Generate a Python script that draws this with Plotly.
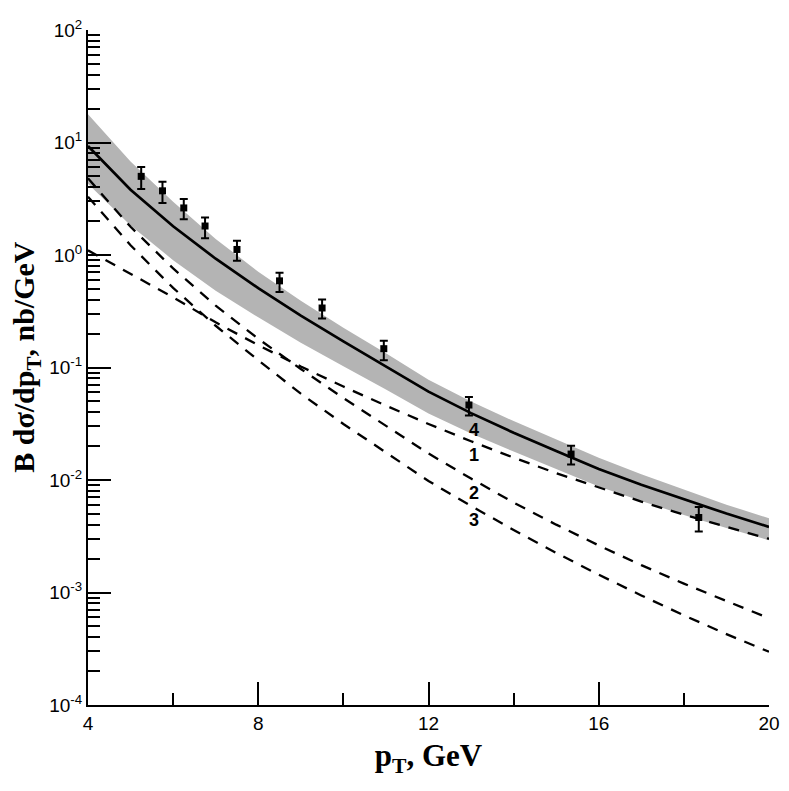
import math

import plotly.graph_objects as go

# theory grid (pT, GeV)
pt = [4, 5, 6, 7, 8, 9, 10, 11, 12, 13, 14, 15, 16, 17, 18, 19, 20]
total = [9.3, 3.81, 1.80, 0.927, 0.508, 0.289, 0.171, 0.103, 0.061, 0.0393, 0.0263,
         0.0181, 0.0125, 0.00906, 0.0067, 0.00503, 0.00383]
band_hi = [17.8, 6.78, 2.97, 1.39, 0.711, 0.393, 0.226, 0.134, 0.078, 0.0499, 0.0334,
           0.0230, 0.01575, 0.01123, 0.00817, 0.00604, 0.00456]
band_lo = [4.3, 1.83, 0.90, 0.482, 0.279, 0.166, 0.1026, 0.0639, 0.0390, 0.0259, 0.0179,
           0.0125, 0.00875, 0.00652, 0.00489, 0.00375, 0.00291]
curve1 = [1.10, 0.68, 0.42, 0.252, 0.158, 0.102, 0.0677, 0.0458, 0.0315, 0.0221, 0.0158,
          0.0115, 0.00855, 0.00643, 0.00491, 0.00381, 0.00300]
curve2 = [4.8, 1.78, 0.76, 0.355, 0.180, 0.097, 0.0535, 0.0302, 0.0172, 0.0103, 0.0063,
          0.00401, 0.00262, 0.00175, 0.00120, 0.00084, 0.00059]
curve3 = [3.3, 1.22, 0.51, 0.235, 0.116, 0.0585, 0.0315, 0.0175, 0.0098, 0.00587, 0.0036,
          0.00225, 0.00144, 0.000942, 0.000627, 0.000427, 0.000297]

# measured points
data_pt = [5.25, 5.75, 6.25, 6.75, 7.5, 8.5, 9.5, 10.95, 12.95, 15.35, 18.35]
data_y = [5.0, 3.72, 2.62, 1.81, 1.12, 0.589, 0.338, 0.147, 0.0464, 0.0170, 0.00464]
data_hi = [6.06, 4.48, 3.14, 2.15, 1.34, 0.697, 0.402, 0.173, 0.0547, 0.0202, 0.00574]
data_lo = [3.86, 2.90, 2.08, 1.41, 0.887, 0.470, 0.273, 0.116, 0.0374, 0.0137, 0.00348]

# curve labels
label_text = ["4", "1", "2", "3"]
label_x = [13.07, 13.07, 13.07, 13.07]
label_y = [0.0277, 0.01675, 0.00766, 0.00437]

SANS = "Liberation Sans, Arial, sans-serif"
SERIF = "Liberation Serif, Times New Roman, serif"
GREY = "#b4b4b4"

fig = go.Figure()
fig.add_scatter(x=pt, y=band_lo, mode="lines", line=dict(width=0, color=GREY),
                showlegend=False, hoverinfo="skip")
fig.add_scatter(x=pt, y=band_hi, mode="lines", line=dict(width=0, color=GREY),
                fill="tonexty", fillcolor=GREY, showlegend=False, hoverinfo="skip")
for c in (curve1, curve2, curve3):
    fig.add_scatter(x=pt, y=c, mode="lines", showlegend=False,
                    line=dict(color="black", width=2.3, dash="11px,9px"))
fig.add_scatter(x=pt, y=total, mode="lines", showlegend=False,
                line=dict(color="black", width=2.7))
fig.add_scatter(x=data_pt, y=data_y, mode="markers", showlegend=False,
                marker=dict(symbol="square", size=7, color="black"),
                error_y=dict(type="data", symmetric=False,
                             array=[h - y for h, y in zip(data_hi, data_y)],
                             arrayminus=[y - l for y, l in zip(data_y, data_lo)],
                             color="black", thickness=2, width=4))

for t, x, y in zip(label_text, label_x, label_y):
    fig.add_annotation(x=x, y=math.log10(y), text=f"<b>{t}</b>",
                       showarrow=False, font=dict(family=SANS, size=18, color="black"))

# y title placed by hand: it sits a little above the middle of the axis
fig.add_annotation(xref="paper", yref="paper", x=-0.091, y=0.516, textangle=-90,
                   text="<b>B dσ/dp<sub>T</sub>, nb/GeV</b>", showarrow=False,
                   xanchor="center", yanchor="middle",
                   font=dict(family=SERIF, size=30, color="black"))

ytick_vals = [10.0 ** n for n in range(-4, 3)]
ytick_text = [f"10<sup>{n}</sup>" for n in range(-4, 3)]
minor_y = [k * 10.0 ** n for n in range(-4, 2) for k in range(2, 10)]

# the page body adds an 8px offset, so the figure is drawn 8px smaller
fig.update_layout(
    width=781, height=783, plot_bgcolor="white", paper_bgcolor="white",
    margin=dict(l=80, r=13, t=9, b=86),
    font=dict(family=SANS, size=19, color="black"),
)
fig.update_xaxes(range=[4, 20], tickvals=[4, 8, 12, 16, 20], ticks="inside", ticklen=23,
                 tickwidth=2, tickcolor="black", showline=True, linecolor="black", linewidth=2,
                 showgrid=False, zeroline=False, ticklabeloverflow="allow",
                 minor=dict(tickvals=[6, 10, 14, 18], ticks="inside", ticklen=12,
                            tickwidth=2, tickcolor="black", showgrid=False),
                 title=dict(text="<b>p<sub>T</sub>, GeV</b>", standoff=12,
                            font=dict(family=SERIF, size=31)))
fig.update_yaxes(type="log", range=[-4, 2], tickvals=ytick_vals, ticktext=ytick_text,
                 ticks="inside", ticklen=23, tickwidth=2, tickcolor="black",
                 showline=True, linecolor="black", linewidth=2, showgrid=False, zeroline=False,
                 ticklabeloverflow="allow",
                 minor=dict(tickvals=minor_y, ticks="inside", ticklen=12, tickwidth=2,
                            tickcolor="black", showgrid=False))

fig.write_html("out.html")
